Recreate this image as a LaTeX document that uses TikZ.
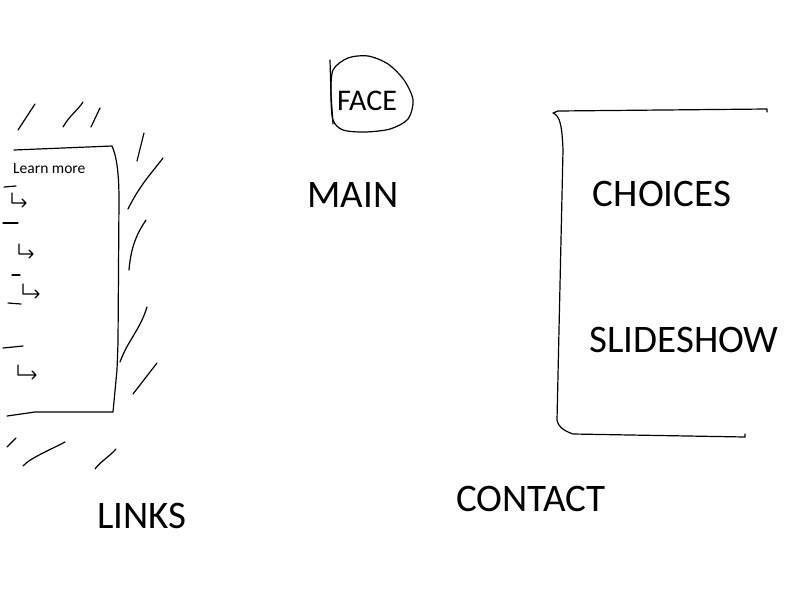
\documentclass[tikz,border=0pt]{standalone}
\usepackage{fontspec}
\setmainfont{Carlito}

\begin{document}
\begin{tikzpicture}[x=1pt,y=-1pt,
  pen/.style={black,line width=1.2pt,line cap=round,line join=round},
  big/.style={font=\fontsize{39}{39}\selectfont,inner sep=0pt,anchor=base},
  small/.style={font=\fontsize{15.5}{16}\selectfont,inner sep=0pt,anchor=base west}]
\useasboundingbox (0,0) rectangle (800,600);

% links box
\draw [pen] (7,416) -- (35,412) -- (113,412) -- (117,370) -- (118,343) -- (119,200)
  .. controls (119,170) and (116,155) .. (112,146) -- (14,150);
% hatching round the links box
\draw [pen] (18,130) -- (35,104);
\draw [pen] (63,127) .. controls (70,115) and (78,110) .. (83,102);
\draw [pen] (91,127) -- (100,108);
\draw [pen] (137,161) -- (144,133);
\draw [pen] (128,209) .. controls (140,185) and (150,175) .. (163,158);
\draw [pen] (129,270) .. controls (131,245) and (138,232) .. (146,220);
\draw [pen] (120,362) .. controls (128,340) and (140,330) .. (147,307);
\draw [pen] (133,394) -- (157,363);
\draw [pen] (7,447) -- (16,438);
\draw [pen] (23,466) .. controls (30,458) and (50,450) .. (65,442);
\draw [pen] (95,469) .. controls (100,462) and (110,456) .. (116,449);

% dashes and arrows down the left side
\draw [pen] (4,187) -- (16,186);
\draw [pen] (3,223) -- (18,223);
\draw [pen] (12,275) -- (20,275);
\draw [pen] (8,303) -- (21,304);
\draw [pen] (3,348) -- (23,346);
\foreach \x/\y/\l in {12/203/13, 19/254/13, 23/294/15, 18/375/17}
  \draw [pen] (\x,\y-10) -- (\x,\y) -- (\x+\l,\y) (\x+\l-3,\y-4) -- (\x+\l+1,\y) -- (\x+\l-3,\y+4);

\node [small] (learn) at (13,173) {Learn more};
\node [big] (links) at (142,528) {LINKS};

% face
\draw [pen] (330,60) -- (331,95) -- (333,124);
\draw [pen] plot [smooth cycle] coordinates {(333,70) (348,58) (368,56) (388,64) (404,80)
  (413,100) (408,119) (390,129) (365,132) (343,130) (333,120) (331,95)};
\node [font=\fontsize{30}{30}\selectfont,inner sep=0pt] (face) at (367,101) {FACE};

\node [big] (main) at (353,207) {MAIN};

% choices box
\draw [pen] (767,112) -- (767,109) -- (558,111) -- (553,113)
  .. controls (560,116) and (562,125) .. (563,150) -- (557,420)
  .. controls (558,426) and (562,430) .. (573,434) -- (745,437) -- (745,434);
\node [big] (choices) at (662,206) {CHOICES};
\node [big] (slideshow) at (684,352) {SLIDESHOW};

\node [big] (contact) at (531,511) {CONTACT};
\end{tikzpicture}
\end{document}
